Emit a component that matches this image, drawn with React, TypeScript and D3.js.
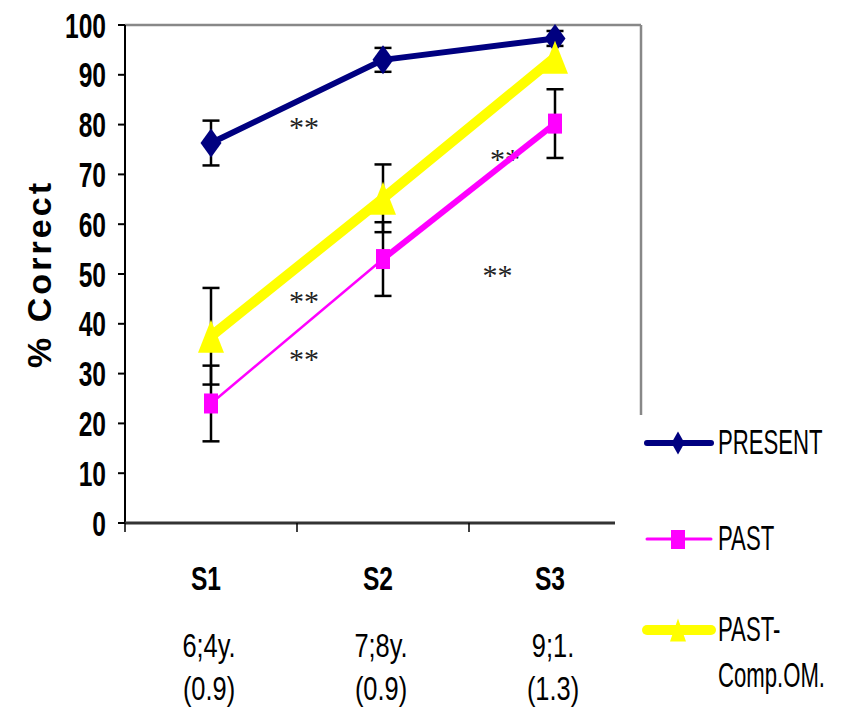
import React from "react";
import * as d3 from "d3";

const categories = ["S1", "S2", "S3"];
const ageLabels = ["6;4y.", "7;8y.", "9;1."];
const sdLabels = ["(0.9)", "(0.9)", "(1.3)"];
const yTicks = [0, 10, 20, 30, 40, 50, 60, 70, 80, 90, 100];

const presentValues = [76.3, 93, 97.3];
const presentErr = [4.5, 2.4, 1.5];
const pastValues = [24, 53, 80.2];
const pastErr = [7.6, 7.4, 6.9];
const pastCompValues = [37.5, 65.2, 93.5];
const pastCompErr = [9.7, 6.8, 0];

const legendNames = [["PRESENT"], ["PAST"], ["PAST-", "Comp.OM."]];

// significance marks: position along category axis (index units) and value
const starPos = [0.54, 0.54, 0.54, 1.71, 1.665];
const starVal = [80.3, 45.4, 33.7, 73.9, 50.6];

const W = 844;
const H = 707;
const left = 125;
const right = 641;
const top = 25;
const bottom = 523;

const NAVY = "#000080";
const MAGENTA = "#FF00FF";
const YELLOW = "#FFFF00";
const FONT = "'Liberation Sans', Arial, sans-serif";

function T({ x, y, size, sx = 0.82, sy = 1, anchor = "middle", weight = "normal", children }: any) {
  return (
    <text
      transform={`translate(${x},${y}) scale(${sx},${sy})`}
      fontFamily={FONT}
      fontSize={size}
      fontWeight={weight}
      textAnchor={anchor}
      fill="#000"
    >
      {children}
    </text>
  );
}

function diamond(cx: number, cy: number, w: number, h: number) {
  return `M${cx},${cy - h / 2}L${cx + w / 2},${cy}L${cx},${cy + h / 2}L${cx - w / 2},${cy}Z`;
}
function triangle(cx: number, cy: number, w: number, h: number) {
  return `M${cx},${cy - h / 2}L${cx + w / 2},${cy + h / 2}L${cx - w / 2},${cy + h / 2}Z`;
}

export default function App() {
  const xBand = d3.scaleBand().domain(categories).range([left, right]).padding(0);
  const xc = (c: string) => (xBand(c) as number) + xBand.bandwidth() / 2;
  const xIdx = d3.scaleLinear().domain([0, 2]).range([xc(categories[0]), xc(categories[2])]);
  const y = d3.scaleLinear().domain([0, 100]).range([bottom, top]);

  const line = d3
    .line<number>()
    .x((_, i) => xc(categories[i]))
    .y((d) => y(d));

  const errBars = (vals: number[], errs: number[], key: string) =>
    vals.map((v, i) =>
      errs[i] > 0 ? (
        <g key={key + i} stroke="#000" strokeWidth={2.5}>
          <line x1={xc(categories[i])} x2={xc(categories[i])} y1={y(v - errs[i])} y2={y(v + errs[i])} />
          <line x1={xc(categories[i]) - 8.5} x2={xc(categories[i]) + 8.5} y1={y(v - errs[i])} y2={y(v - errs[i])} />
          <line x1={xc(categories[i]) - 8.5} x2={xc(categories[i]) + 8.5} y1={y(v + errs[i])} y2={y(v + errs[i])} />
        </g>
      ) : null
    );

  const pastSegWidths = [2.5, 6];
  const bandTicks = [left, ...categories.slice(1).map((c) => xBand(c) as number)];

  const legendY = [443, 539, 630];

  return (
    <svg width={W} height={H} style={{ position: "absolute", left: 0, top: 0, background: "#fff" }}>
      <rect x={0} y={0} width={W} height={H} fill="#fff" />
      {/* frame */}
      <line x1={left} x2={right} y1={top} y2={top} stroke="#888" strokeWidth={2.5} />
      <line x1={right} x2={right} y1={top} y2={bottom} stroke="#888" strokeWidth={2.5} />
      {/* y axis */}
      <line x1={left} x2={left} y1={top} y2={bottom} stroke="#000" strokeWidth={2} />
      {yTicks.map((t) => (
        <g key={"yt" + t}>
          <line x1={left - 7} x2={left} y1={y(t)} y2={y(t)} stroke="#000" strokeWidth={2} />
          <T x={106} y={y(t) + 12.5} size={30} sy={1.18} anchor="end" weight="bold">
            {t}
          </T>
        </g>
      ))}
      {/* x axis */}
      <line x1={left} x2={right} y1={bottom} y2={bottom} stroke="#333" strokeWidth={3} />
      {bandTicks.map((t, i) => (
        <line key={"xt" + i} x1={t} x2={t} y1={bottom} y2={bottom + 9} stroke="#000" strokeWidth={1.5} />
      ))}
      {categories.map((c, i) => (
        <g key={"xl" + c}>
          <T x={xc(c) - 5} y={590} size={30} sy={1.12} weight="bold">
            {c}
          </T>
          <T x={xc(c) - 2} y={657} size={31} sy={1.05}>
            {ageLabels[i]}
          </T>
          <T x={xc(c) - 2} y={700} size={31} sy={1.05}>
            {sdLabels[i]}
          </T>
        </g>
      ))}
      {/* y title */}
      <text
        transform={`translate(51,275.5) rotate(-90)`}
        fontFamily={FONT}
        fontSize={34}
        fontWeight="bold"
        textAnchor="middle"
        textLength={185}
        lengthAdjust="spacing"
      >
        % Correct
      </text>

      {/* error bars */}
      {errBars(presentValues, presentErr, "pe")}
      {errBars(pastValues, pastErr, "pa")}
      {errBars(pastCompValues, pastCompErr, "pc")}

      {/* significance marks */}
      {starPos.map((p, i) => (
        <text
          key={"st" + i}
          x={xIdx(p)}
          y={y(starVal[i]) + 14}
          fontFamily="'Liberation Serif', 'Times New Roman', serif"
          fontSize={30}
          letterSpacing={0}
          textAnchor="middle"
          fill="#222"
        >
          **
        </text>
      ))}

      {/* PRESENT */}
      <path d={line(presentValues) as string} fill="none" stroke={NAVY} strokeWidth={6} strokeLinejoin="round" />
      {presentValues.map((v, i) => (
        <path key={"pm" + i} d={diamond(xc(categories[i]), y(v), 21, 29)} fill={NAVY} />
      ))}
      {/* PAST */}
      {pastValues.slice(1).map((v, i) => (
        <line
          key={"ps" + i}
          x1={xc(categories[i])}
          y1={y(pastValues[i])}
          x2={xc(categories[i + 1])}
          y2={y(v)}
          stroke={MAGENTA}
          strokeWidth={pastSegWidths[i]}
        />
      ))}
      {pastValues.map((v, i) => (
        <rect key={"sm" + i} x={xc(categories[i]) - 7} y={y(v) - 10} width={14} height={20} fill={MAGENTA} />
      ))}
      {/* PAST-Comp */}
      <path d={line(pastCompValues) as string} fill="none" stroke={YELLOW} strokeWidth={10} strokeLinejoin="round" />
      {pastCompValues.map((v, i) => (
        <path key={"tm" + i} d={triangle(xc(categories[i]), y(v), 26, 33)} fill={YELLOW} />
      ))}

      {/* legend */}
      <rect x={615} y={415} width={W - 615} height={H - 415} fill="#fff" />
      {legendNames.map((names, i) => {
        const ly = legendY[i];
        const color = [NAVY, MAGENTA, YELLOW][i];
        const sw = [6, 3, 10][i];
        return (
          <g key={"lg" + i}>
            <line x1={647} x2={711} y1={ly} y2={ly} stroke={color} strokeWidth={sw} strokeLinecap="round" />
            {i === 0 && <path d={diamond(678, ly, 13, 23)} fill={color} />}
            {i === 1 && <rect x={671} y={ly - 9} width={14} height={19} fill={color} />}
            {i === 2 && <path d={triangle(678, ly, 16, 23)} fill={color} />}
            {names.map((n, j) => (
              <T key={n} x={718} y={ly + 11 + j * 46} size={27} sy={1.3} anchor="start">
                {n}
              </T>
            ))}
          </g>
        );
      })}
    </svg>
  );
}
